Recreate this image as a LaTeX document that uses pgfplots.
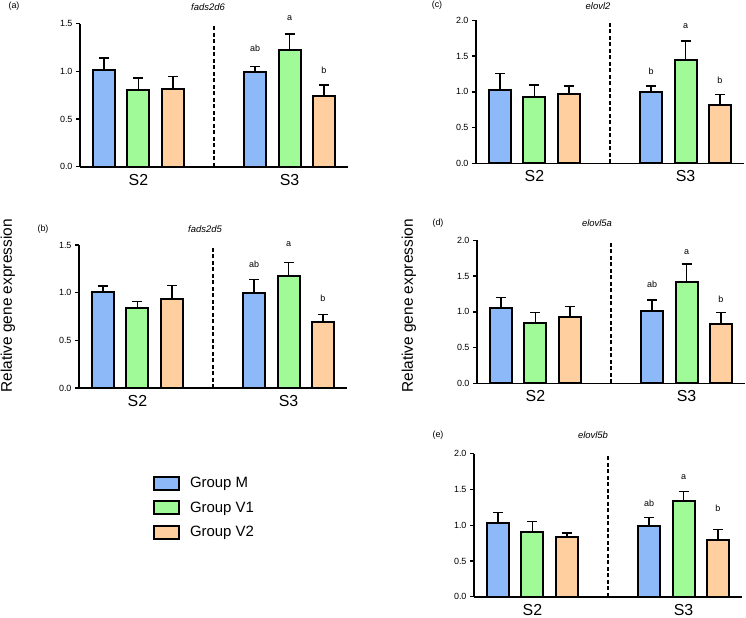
\documentclass[border=0pt]{standalone}
\usepackage{fontspec}
\setmainfont{Liberation Sans}
\usepackage{pgfplots}
\pgfplotsset{compat=1.18}
\definecolor{cM}{HTML}{8DB9F8}
\definecolor{cV1}{HTML}{A0FA98}
\definecolor{cV2}{HTML}{FFCF9F}
\pgfplotsset{
 panel/.style={scale only axis, width=268bp, height=143bp, xmin=0.3, xmax=8.1, ymin=0,
  anchor=south west,
  axis x line=bottom, axis y line=left, axis line style={-, line width=1.6bp},
  xtick={2,6.4}, xticklabels={S2,S3}, xtick style={draw=none},
  xticklabel style={font=\fontsize{16}{18}\selectfont},
  ytick style={line width=1.4bp, black}, tick align=outside, major tick length=4bp,
  /pgf/number format/assume math mode=true,
  yticklabel style={font=\fontsize{9}{10}\selectfont, /pgf/number format/.cd, fixed, fixed zerofill, precision=1},
  clip=false},
 bars/.style={ybar, bar width=0.64, bar shift=0pt, draw=black, line width=2bp, fill=#1,
  legend image code/.code={\draw[fill=#1, draw=black, line width=2bp] (0bp,-6.5bp) rectangle (25bp,6.5bp); \path[draw=none, fill=none] (0bp,0bp) -- (34bp,0bp);},
  error bars/.cd, y dir=plus, y explicit, error bar style={line width=1.5bp, black},
  error mark options={rotate=90, mark size=5bp, line width=1.5bp, black}},
 sep/.style={black, line width=1.5bp, dash pattern=on 4bp off 2.5bp, forget plot},
}
\newcommand{\lett}{\fontsize{9}{10}\selectfont}
\newcommand{\ttl}{\fontsize{9.5}{10}\selectfont\itshape}
\begin{document}
\begin{tikzpicture}
\useasboundingbox (0,0) rectangle (746bp,-618bp);
% (a)
\begin{axis}[panel, at={(80bp,-166.7bp)}, ymax=1.5, ytick={0,0.5,1,1.5}]
\addplot[bars=cM] coordinates {(1,1.01) +- (0,0.13) (5.4,0.99) +- (0,0.06)};
\addplot[bars=cV1] coordinates {(2,0.80) +- (0,0.13) (6.4,1.22) +- (0,0.17)};
\addplot[bars=cV2] coordinates {(3,0.82) +- (0,0.125) (7.4,0.745) +- (0,0.11)};
\addplot[sep] coordinates {(4.2,0) (4.2,1.5)};
\node[font=\lett] at (axis cs:5.4,1.24) {ab};
\node[font=\lett] at (axis cs:6.4,1.56) {a};
\node[font=\lett] at (axis cs:7.4,1.01) {b};
\end{axis}
% (b)
\begin{axis}[panel, at={(79bp,-388bp)}, ymax=1.5, ytick={0,0.5,1,1.5},
  legend style={at={(0.268,-0.595)}, anchor=north west, draw=none, fill=none,
   font=\fontsize{15}{17}\selectfont, row sep=8.5bp, inner sep=2bp},
  legend cell align=left]
\addplot[bars=cM] coordinates {(1,1.008) +- (0,0.062) (5.4,0.998) +- (0,0.138)};
\addplot[bars=cV1] coordinates {(2,0.835) +- (0,0.075) (6.4,1.174) +- (0,0.142)};
\addplot[bars=cV2] coordinates {(3,0.935) +- (0,0.142) (7.4,0.69) +- (0,0.082)};
\addplot[sep] coordinates {(4.2,0) (4.2,1.5)};
\legend{Group M, Group V1, Group V2}
\node[font=\lett] at (axis cs:5.4,1.30) {ab};
\node[font=\lett] at (axis cs:6.4,1.507) {a};
\node[font=\lett] at (axis cs:7.4,0.94) {b};
\end{axis}
% (c)
\begin{axis}[panel, at={(476bp,-163.3bp)}, ymax=2, ytick={0,0.5,1,1.5,2}]
\addplot[bars=cM] coordinates {(1,1.03) +- (0,0.226) (5.4,1.00) +- (0,0.08)};
\addplot[bars=cV1] coordinates {(2,0.93) +- (0,0.165) (6.4,1.44) +- (0,0.27)};
\addplot[bars=cV2] coordinates {(3,0.97) +- (0,0.11) (7.4,0.81) +- (0,0.15)};
\addplot[sep] coordinates {(4.2,0) (4.2,2)};
\node[font=\lett] at (axis cs:5.4,1.28) {b};
\node[font=\lett] at (axis cs:6.4,1.92) {a};
\node[font=\lett] at (axis cs:7.4,1.16) {b};
\end{axis}
% (d)
\begin{axis}[panel, at={(477bp,-383.3bp)}, ymax=2, ytick={0,0.5,1,1.5,2}]
\addplot[bars=cM] coordinates {(1,1.05) +- (0,0.15) (5.4,1.005) +- (0,0.16)};
\addplot[bars=cV1] coordinates {(2,0.84) +- (0,0.15) (6.4,1.42) +- (0,0.25)};
\addplot[bars=cV2] coordinates {(3,0.926) +- (0,0.148) (7.4,0.83) +- (0,0.16)};
\addplot[sep] coordinates {(4.2,0) (4.2,2)};
\node[font=\lett] at (axis cs:5.4,1.39) {ab};
\node[font=\lett] at (axis cs:6.4,1.84) {a};
\node[font=\lett] at (axis cs:7.4,1.17) {b};
\end{axis}
% (e)
\begin{axis}[panel, at={(474bp,-596.7bp)}, ymax=2, ytick={0,0.5,1,1.5,2}]
\addplot[bars=cM] coordinates {(1,1.03) +- (0,0.15) (5.4,0.995) +- (0,0.115)};
\addplot[bars=cV1] coordinates {(2,0.907) +- (0,0.143) (6.4,1.333) +- (0,0.137)};
\addplot[bars=cV2] coordinates {(3,0.829) +- (0,0.065) (7.4,0.79) +- (0,0.15)};
\addplot[sep] coordinates {(4.2,0) (4.2,2)};
\node[font=\lett] at (axis cs:5.4,1.31) {ab};
\node[font=\lett] at (axis cs:6.4,1.67) {a};
\node[font=\lett] at (axis cs:7.4,1.24) {b};
\end{axis}
% titles and panel labels
\node[font=\ttl] at (208bp,-7.5bp) {fads2d6};
\node[font=\ttl] at (205bp,-229bp) {fads2d5};
\node[font=\ttl] at (598bp,-6bp) {elovl2};
\node[font=\ttl] at (597bp,-223bp) {elovl5a};
\node[font=\ttl] at (593bp,-435bp) {elovl5b};
\node[font=\lett] at (14bp,-6bp) {(a)};
\node[font=\lett] at (43bp,-229bp) {(b)};
\node[font=\lett] at (437bp,-5bp) {(c)};
\node[font=\lett] at (438bp,-223bp) {(d)};
\node[font=\lett] at (438bp,-435bp) {(e)};
\node[rotate=90, font=\fontsize{15.5}{17}\selectfont] at (8bp,-306bp) {Relative gene expression};
\node[rotate=90, font=\fontsize{15.5}{17}\selectfont] at (409bp,-306bp) {Relative gene expression};
\end{tikzpicture}
\end{document}
